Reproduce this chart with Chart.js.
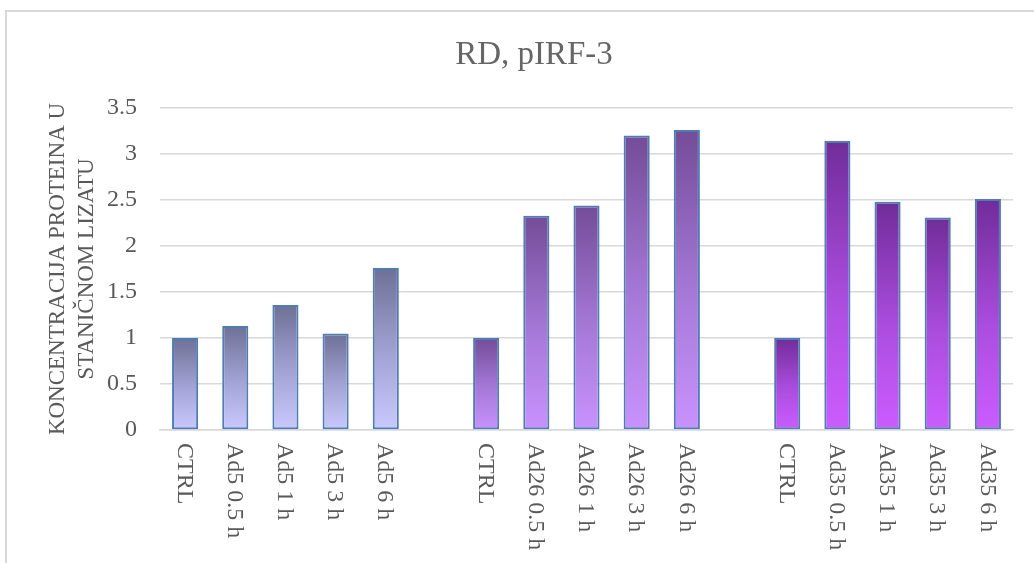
<!DOCTYPE html>
<html>
<head>
<meta charset="utf-8">
<script src="https://cdn.jsdelivr.net/npm/chart.js@4/dist/chart.umd.min.js"></script>
<style>
  html, body { margin: 0; padding: 0; background: #ffffff; }
  #wrap { width: 1034px; height: 563px; position: relative; }
</style>
</head>
<body>
<div id="wrap"><canvas id="c" width="1034" height="563"></canvas></div>
<script>
// ---- data ----
const titleText = 'RD, pIRF-3';
const yAxisTitle = ['KONCENTRACIJA PROTEINA U', 'STANIČNOM LIZATU'];
const ad5Labels  = ['CTRL', 'Ad5 0.5 h', 'Ad5 1 h', 'Ad5 3 h', 'Ad5 6 h'];
const ad26Labels = ['CTRL', 'Ad26 0.5 h', 'Ad26 1 h', 'Ad26 3 h', 'Ad26 6 h'];
const ad35Labels = ['CTRL', 'Ad35 0.5 h', 'Ad35 1 h', 'Ad35 3 h', 'Ad35 6 h'];
const ad5Values  = [1.00, 1.13, 1.36, 1.05, 1.76];
const ad26Values = [1.00, 2.33, 2.44, 3.20, 3.26];
const ad35Values = [1.00, 3.14, 2.48, 2.31, 2.51];
const yTicks = [0, 0.5, 1, 1.5, 2, 2.5, 3, 3.5];

// build category list with one empty slot between groups
const categories = [...ad5Labels, '', ...ad26Labels, '', ...ad35Labels];
const values = [...ad5Values, null, ...ad26Values, null, ...ad35Values];
const groupOf = [...ad5Labels.map(() => 0), -1, ...ad26Labels.map(() => 1), -1, ...ad35Labels.map(() => 2)];

const gradStops = [
  ['#6f7096', '#a4a5d6', '#c9c9fd'],
  ['#744c98', '#a679d8', '#c992fd'],
  ['#712c99', '#ab4ddf', '#cc5cff']
];

const SERIF = '"Liberation Serif", "Times New Roman", serif';

function barFill(ctx) {
  const chart = ctx.chart;
  const g = groupOf[ctx.dataIndex];
  if (g < 0) return 'rgba(0,0,0,0)';
  const y = chart.scales.y;
  if (!chart.chartArea || !y) return gradStops[g][1];
  const top = y.getPixelForValue(ctx.raw);
  const bot = y.getPixelForValue(0);
  const gr = chart.ctx.createLinearGradient(0, top, 0, bot);
  gr.addColorStop(0, gradStops[g][0]);
  gr.addColorStop(0.55, gradStops[g][1]);
  gr.addColorStop(1, gradStops[g][2]);
  return gr;
}

const frame = {
  id: 'frame',
  beforeDraw(chart) {
    const c = chart.ctx;
    c.save();
    c.strokeStyle = '#d9d9d9';
    c.lineWidth = 2;
    c.strokeRect(6, 11, 1200, 700);
    c.restore();
  }
};

const titleDraw = {
  id: 'titleDraw',
  afterDraw(chart) {
    const c = chart.ctx;
    c.save();
    c.fillStyle = '#666666';
    c.font = '33px ' + SERIF;
    c.textAlign = 'center';
    c.textBaseline = 'middle';
    c.fillText(titleText, 534, 55);
    c.restore();
  }
};

const xLabels = {
  id: 'xLabels',
  afterDraw(chart) {
    const c = chart.ctx;
    const xs = chart.scales.x;
    c.save();
    c.fillStyle = '#595959';
    c.font = '24px ' + SERIF;
    c.textAlign = 'left';
    c.textBaseline = 'middle';
    categories.forEach((lab, i) => {
      if (!lab) return;
      const x = xs.getPixelForValue(i);
      c.save();
      c.translate(x - 1, xs.top + 13);
      c.rotate(Math.PI / 2);
      c.fillText(lab, 0, 0);
      c.restore();
    });
    c.restore();
  }
};

new Chart(document.getElementById('c'), {
  type: 'bar',
  data: {
    labels: categories,
    datasets: [{
      data: values,
      backgroundColor: barFill,
      borderColor: '#4a7ebb',
      borderWidth: 2,
      borderSkipped: false,
      barPercentage: 0.52,
      categoryPercentage: 1.0
    }]
  },
  options: {
    responsive: false,
    animation: false,
    devicePixelRatio: 1,
    layout: { padding: { left: 0, right: 21, top: 108, bottom: 0 } },
    plugins: {
      legend: { display: false },
      tooltip: { enabled: false },
      title: { display: false }
    },
    scales: {
      x: {
        grid: { display: false },
        border: { display: true, color: '#d9d9d9', width: 1.5 },
        ticks: { display: false },
        afterFit(scale) { scale.height = 133; }
      },
      y: {
        min: 0,
        max: 3.5,
        afterBuildTicks(scale) { scale.ticks = yTicks.map(v => ({ value: v })); },
        grid: { color: '#d9d9d9', lineWidth: 1.5, drawTicks: false },
        border: { display: false },
        ticks: {
          color: '#595959',
          padding: 23,
          font: { family: SERIF, size: 24 },
          callback: (v) => String(v)
        },
        title: {
          display: true,
          text: yAxisTitle,
          color: '#595959',
          font: { family: SERIF, size: 23, lineHeight: 1.25 },
          padding: { top: 44, bottom: 0 }
        },
        afterFit(scale) { scale.width = 160; }
      }
    }
  },
  plugins: [frame, xLabels, titleDraw]
});
</script>
</body>
</html>
